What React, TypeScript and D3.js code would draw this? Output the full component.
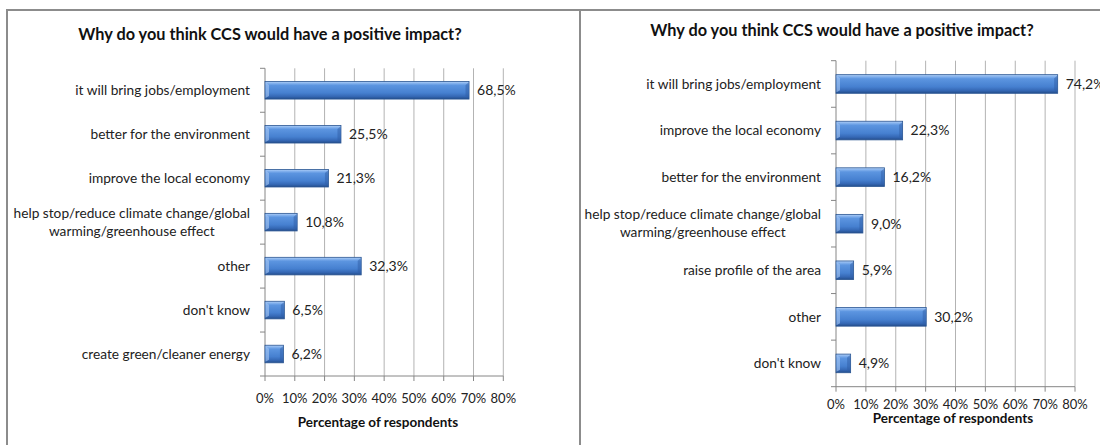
import React, { useEffect, useRef } from "react";
import * as d3 from "d3";

const titleText = "Why do you think CCS would have a positive impact?";
const axisTitleText = "Percentage of respondents";
const tickValues = [0, 10, 20, 30, 40, 50, 60, 70, 80];

const leftCategories = [
  "it will bring jobs/employment",
  "better for the environment",
  "improve the local economy",
  "help stop/reduce climate change/global\nwarming/greenhouse effect",
  "other",
  "don't know",
  "create green/cleaner energy",
];
const leftValues = [68.5, 25.5, 21.3, 10.8, 32.3, 6.5, 6.2];

const rightCategories = [
  "it will bring jobs/employment",
  "improve the local economy",
  "better for the environment",
  "help stop/reduce climate change/global\nwarming/greenhouse effect",
  "raise profile of the area",
  "other",
  "don't know",
];
const rightValues = [74.2, 22.3, 16.2, 9.0, 5.9, 30.2, 4.9];

const FONT = "Lato, 'Open Sans', sans-serif";

type Panel = {
  cats: string[];
  vals: number[];
  x0: number;
  x1: number;
  yTop: number;
  yBot: number;
  titleX: number;
  titleY: number;
  tickY: number;
  axisTitleY: number;
  axisTitleX: number;
};

const panels: Panel[] = [
  {
    cats: leftCategories,
    vals: leftValues,
    x0: 265,
    x1: 503.3,
    yTop: 68.3,
    yBot: 376,
    titleX: 270,
    titleY: 40,
    tickY: 403,
    axisTitleY: 427,
    axisTitleX: 378,
  },
  {
    cats: rightCategories,
    vals: rightValues,
    x0: 836,
    x1: 1075,
    yTop: 60.7,
    yBot: 386.7,
    titleX: 842,
    titleY: 36,
    tickY: 409,
    axisTitleY: 423,
    axisTitleX: 953,
  },
];

const fmt = (v: number) => v.toFixed(1).replace(".", ",") + "%";

export default function App() {
  const ref = useRef<SVGSVGElement>(null);

  useEffect(() => {
    const svg = d3.select(ref.current);
    svg.selectAll("*").remove();

    const defs = svg.append("defs");
    const grad = defs
      .append("linearGradient")
      .attr("id", "barGrad")
      .attr("x1", 0)
      .attr("y1", 0)
      .attr("x2", 0)
      .attr("y2", 1);
    [
      [0, "#b5d2f7"],
      [0.1, "#86b3ee"],
      [0.22, "#5c95e0"],
      [0.65, "#4680d0"],
      [0.85, "#3568b5"],
      [1, "#244e8c"],
    ].forEach(([o, c]) =>
      grad.append("stop").attr("offset", o as number).attr("stop-color", c as string)
    );

    svg
      .append("rect")
      .attr("x", 0)
      .attr("y", 0)
      .attr("width", 1100)
      .attr("height", 445)
      .attr("fill", "#ffffff");

    const frame = svg.append("g").attr("stroke", "#8c8c8c").attr("stroke-width", 2);
    frame.append("line").attr("x1", 6).attr("x2", 1100).attr("y1", 10).attr("y2", 10);
    frame.append("line").attr("x1", 7).attr("x2", 7).attr("y1", 9).attr("y2", 445);
    frame.append("line").attr("x1", 580).attr("x2", 580).attr("y1", 9).attr("y2", 445);

    panels.forEach((p) => {
      const g = svg.append("g");
      const x = d3.scaleLinear().domain([0, 80]).range([p.x0, p.x1]);
      const y = d3
        .scaleBand<string>()
        .domain(p.cats)
        .range([p.yTop, p.yBot])
        .paddingInner(0.6)
        .paddingOuter(0.3);
      const step = y.step();

      g.selectAll(".grid")
        .data(tickValues.slice(1))
        .join("line")
        .attr("x1", (d) => x(d))
        .attr("x2", (d) => x(d))
        .attr("y1", p.yTop)
        .attr("y2", p.yBot)
        .attr("stroke", "#b3b3b3")
        .attr("stroke-width", 1);

      g.append("line")
        .attr("x1", p.x0)
        .attr("x2", p.x0)
        .attr("y1", p.yTop)
        .attr("y2", p.yBot)
        .attr("stroke", "#868686");
      g.selectAll(".ytick")
        .data(d3.range(p.cats.length + 1))
        .join("line")
        .attr("x1", p.x0 - 5)
        .attr("x2", p.x0)
        .attr("y1", (i) => p.yTop + i * step)
        .attr("y2", (i) => p.yTop + i * step)
        .attr("stroke", "#868686");

      g.append("line")
        .attr("x1", p.x0)
        .attr("x2", p.x1)
        .attr("y1", p.yBot)
        .attr("y2", p.yBot)
        .attr("stroke", "#868686");
      g.selectAll(".xtick")
        .data(tickValues)
        .join("line")
        .attr("x1", (d) => x(d))
        .attr("x2", (d) => x(d))
        .attr("y1", p.yBot)
        .attr("y2", p.yBot + 5)
        .attr("stroke", "#868686");
      g.selectAll(".xlabel")
        .data(tickValues)
        .join("text")
        .attr("x", (d) => x(d))
        .attr("y", p.tickY)
        .attr("text-anchor", "middle")
        .attr("font-family", FONT)
        .attr("font-size", 13)
        .attr("fill", "#222")
        .text((d) => d + "%");

      const data = p.cats.map((c, i) => ({ c, v: p.vals[i] }));
      g.selectAll(".bar")
        .data(data)
        .join("rect")
        .attr("x", p.x0)
        .attr("y", (d) => y(d.c)!)
        .attr("width", (d) => x(d.v) - p.x0)
        .attr("height", y.bandwidth())
        .attr("fill", "url(#barGrad)")
        .attr("stroke", "#2a5592")
        .attr("stroke-width", 0.8);
      g.selectAll(".bevel")
        .data(data)
        .join("path")
        .attr("d", (d) => {
          const top = y(d.c)!;
          const h = y.bandwidth();
          return `M${p.x0 + 0.5},${top + 1} L${p.x0 + 4},${top + 3.5} L${p.x0 + 4},${top + h - 3} L${p.x0 + 0.5},${top + h - 1} Z`;
        })
        .attr("fill", "#a8c8f3")
        .attr("opacity", 0.6);
      g.selectAll(".bevelR")
        .data(data)
        .join("path")
        .attr("d", (d) => {
          const top = y(d.c)!;
          const h = y.bandwidth();
          const xe = x(d.v);
          return `M${xe - 0.5},${top + 1} L${xe - 3.5},${top + 3.5} L${xe - 3.5},${top + h - 3} L${xe - 0.5},${top + h - 1} Z`;
        })
        .attr("fill", "#2f5ea6")
        .attr("opacity", 0.5);

      g.selectAll(".val")
        .data(data)
        .join("text")
        .attr("x", (d) => x(d.v) + 8)
        .attr("y", (d) => y(d.c)! + y.bandwidth() / 2)
        .attr("dy", "0.35em")
        .attr("font-family", FONT)
        .attr("font-size", 14)
        .attr("fill", "#222")
        .text((d) => fmt(d.v));

      data.forEach((d) => {
        const cy = y(d.c)! + y.bandwidth() / 2;
        const lines = d.c.split("\n");
        if (lines.length === 1) {
          g.append("text")
            .attr("x", p.x0 - 15)
            .attr("y", cy)
            .attr("dy", "0.35em")
            .attr("text-anchor", "end")
            .attr("font-family", FONT)
            .attr("font-size", 13.7)
            .attr("fill", "#222")
            .text(lines[0]);
        } else {
          const t1 = g
            .append("text")
            .attr("x", p.x0 - 15)
            .attr("y", cy - 9)
            .attr("dy", "0.35em")
            .attr("text-anchor", "end")
            .attr("font-family", FONT)
            .attr("font-size", 13.7)
            .attr("fill", "#222")
            .text(lines[0]);
          const w = (t1.node() as SVGTextElement).getComputedTextLength();
          g.append("text")
            .attr("x", p.x0 - 15 - w / 2)
            .attr("y", cy + 9)
            .attr("dy", "0.35em")
            .attr("text-anchor", "middle")
            .attr("font-family", FONT)
            .attr("font-size", 13.7)
            .attr("fill", "#222")
            .text(lines[1]);
        }
      });

      g.append("text")
        .attr("x", p.titleX)
        .attr("y", p.titleY)
        .attr("text-anchor", "middle")
        .attr("font-family", FONT)
        .attr("font-weight", "bold")
        .attr("font-size", 16.3)
        .attr("fill", "#111")
        .text(titleText);

      g.append("text")
        .attr("x", p.axisTitleX)
        .attr("y", p.axisTitleY)
        .attr("text-anchor", "middle")
        .attr("font-family", FONT)
        .attr("font-weight", "bold")
        .attr("font-size", 13.5)
        .attr("fill", "#111")
        .text(axisTitleText);
    });
  }, []);

  return (
    <svg
      ref={ref}
      width={1100}
      height={445}
      style={{ position: "absolute", left: 0, top: 0, display: "block" }}
    />
  );
}
